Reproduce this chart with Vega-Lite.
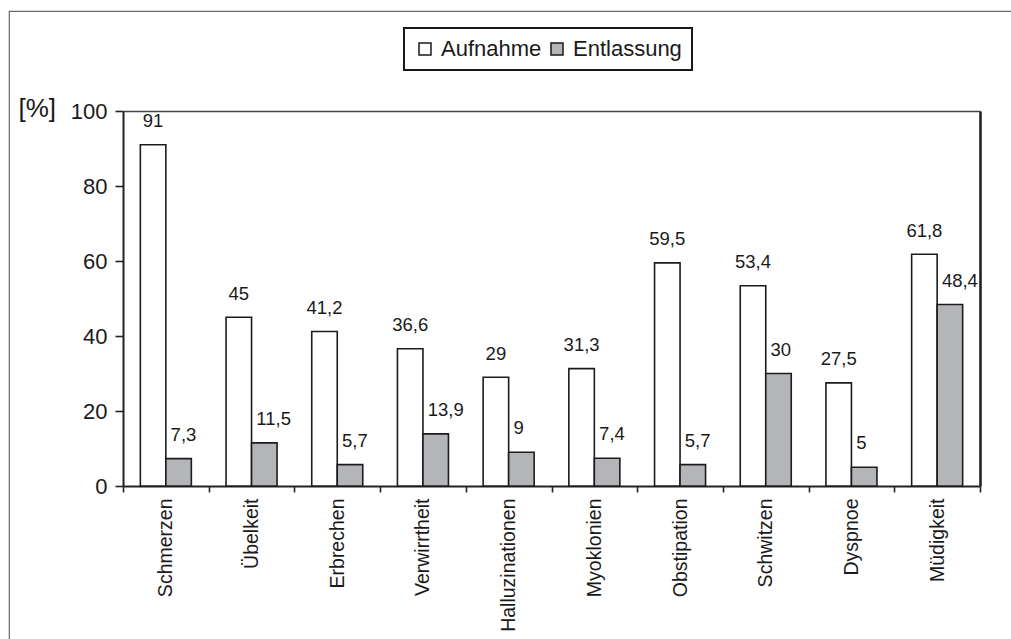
{
  "$schema": "https://vega.github.io/schema/vega-lite/v6.json",
  "width": 1002,
  "height": 628,
  "autosize": {"type": "none"},
  "padding": {"left": 9, "top": 11, "right": 0, "bottom": 0},
  "background": "white",
  "config": {
    "font": "Liberation Sans",
    "view": {"stroke": "#6a6a6a", "strokeWidth": 1.2, "strokeDash": [1002, 1630, 628, 0]},
    "locale": {
      "number": {"decimal": ",", "thousands": ".", "grouping": [3], "currency": ["", " €"]}
    }
  },
  "data": {
    "values": [
      {"symptom": "Schmerzen", "zeitpunkt": "Aufnahme", "wert": 91},
      {"symptom": "Schmerzen", "zeitpunkt": "Entlassung", "wert": 7.3},
      {"symptom": "Übelkeit", "zeitpunkt": "Aufnahme", "wert": 45},
      {"symptom": "Übelkeit", "zeitpunkt": "Entlassung", "wert": 11.5},
      {"symptom": "Erbrechen", "zeitpunkt": "Aufnahme", "wert": 41.2},
      {"symptom": "Erbrechen", "zeitpunkt": "Entlassung", "wert": 5.7},
      {"symptom": "Verwirrtheit", "zeitpunkt": "Aufnahme", "wert": 36.6},
      {"symptom": "Verwirrtheit", "zeitpunkt": "Entlassung", "wert": 13.9},
      {"symptom": "Halluzinationen", "zeitpunkt": "Aufnahme", "wert": 29},
      {"symptom": "Halluzinationen", "zeitpunkt": "Entlassung", "wert": 9},
      {"symptom": "Myoklonien", "zeitpunkt": "Aufnahme", "wert": 31.3},
      {"symptom": "Myoklonien", "zeitpunkt": "Entlassung", "wert": 7.4},
      {"symptom": "Obstipation", "zeitpunkt": "Aufnahme", "wert": 59.5},
      {"symptom": "Obstipation", "zeitpunkt": "Entlassung", "wert": 5.7},
      {"symptom": "Schwitzen", "zeitpunkt": "Aufnahme", "wert": 53.4},
      {"symptom": "Schwitzen", "zeitpunkt": "Entlassung", "wert": 30},
      {"symptom": "Dyspnoe", "zeitpunkt": "Aufnahme", "wert": 27.5},
      {"symptom": "Dyspnoe", "zeitpunkt": "Entlassung", "wert": 5},
      {"symptom": "Müdigkeit", "zeitpunkt": "Aufnahme", "wert": 61.8},
      {"symptom": "Müdigkeit", "zeitpunkt": "Entlassung", "wert": 48.4}
    ]
  },
  "resolve": {"axis": {"x": "independent", "y": "independent"}},
  "layer": [
    {
      "mark": {"type": "bar", "stroke": "#1c1c1c", "strokeWidth": 1.6},
      "encoding": {
        "x": {
          "field": "symptom", "type": "nominal", "sort": null,
          "scale": {"range": [114, 971], "paddingInner": 0, "paddingOuter": 0},
          "axis": {
            "orient": "bottom", "offset": -153, "title": null,
            "labelAngle": -90, "labelFontSize": 19.5, "labelPadding": 6, "labelColor": "#1a1a1a", "labelLimit": 0,
            "tickBand": "extent", "tickSize": 6, "tickWidth": 1.6, "tickColor": "#222222",
            "domainColor": "#222222", "domainWidth": 2, "grid": false
          }
        },
        "xOffset": {
          "field": "zeitpunkt", "type": "nominal", "sort": ["Aufnahme", "Entlassung"],
          "scale": {"paddingInner": 0, "paddingOuter": 0.68}
        },
        "y": {
          "field": "wert", "type": "quantitative",
          "scale": {"domain": [0, 100], "range": [475, 100], "nice": false},
          "axis": {
            "orient": "left", "offset": -114, "values": [0, 20, 40, 60, 80, 100], "grid": false,
            "tickSize": 8, "tickWidth": 1.6, "tickColor": "#222222",
            "domainColor": "#222222", "domainWidth": 2,
            "labelFontSize": 22, "labelPadding": 8, "labelColor": "#1a1a1a",
            "title": "[%]", "titleAngle": 0, "titleAlign": "left", "titleBaseline": "alphabetic",
            "titleX": -105, "titleY": 105, "titleFontSize": 26, "titleFontWeight": "normal", "titleColor": "#1a1a1a"
          }
        },
        "color": {
          "field": "zeitpunkt", "type": "nominal",
          "scale": {"domain": ["Aufnahme", "Entlassung"], "range": ["#ffffff", "#b4b5b8"]},
          "legend": {
            "title": null, "orient": "none", "legendX": 395, "legendY": 17, "direction": "horizontal",
            "symbolType": "square", "symbolSize": 144, "symbolStrokeColor": "#1a1a1a", "symbolStrokeWidth": 1.5,
            "labelFontSize": 22, "labelColor": "#1a1a1a", "labelOffset": 5, "columnPadding": 4,
            "padding": 10, "strokeColor": "#1a1a1a",
            "encode": {"legend": {"update": {"strokeWidth": {"value": 2}}}}
          }
        }
      }
    },
    {
      "transform": [{"filter": "datum.zeitpunkt === 'Aufnahme'"}],
      "mark": {"type": "text", "fontSize": 18.5, "color": "#1a1a1a", "baseline": "alphabetic", "dy": -17.5},
      "encoding": {
        "x": {
          "field": "symptom", "type": "nominal", "sort": null,
          "axis": {"orient": "top", "offset": -100, "title": null, "labels": false, "ticks": false,
                   "domainColor": "#444444", "domainWidth": 1.5, "grid": false}
        },
        "xOffset": {"field": "zeitpunkt", "type": "nominal", "sort": ["Aufnahme", "Entlassung"]},
        "y": {
          "field": "wert", "type": "quantitative",
          "axis": {"orient": "right", "offset": -31, "title": null, "labels": false, "ticks": false,
                   "domainColor": "#222222", "domainWidth": 2.6, "grid": false}
        },
        "text": {"field": "wert", "type": "quantitative", "format": "~f"}
      }
    },
    {
      "transform": [{"filter": "datum.zeitpunkt === 'Entlassung'"}],
      "mark": {"type": "text", "fontSize": 18.5, "color": "#1a1a1a", "baseline": "alphabetic", "align": "left", "dx": -8, "dy": -18},
      "encoding": {
        "x": {"field": "symptom", "type": "nominal", "sort": null, "axis": null},
        "xOffset": {"field": "zeitpunkt", "type": "nominal", "sort": ["Aufnahme", "Entlassung"]},
        "y": {"field": "wert", "type": "quantitative", "axis": null},
        "text": {"field": "wert", "type": "quantitative", "format": "~f"}
      }
    }
  ]
}
